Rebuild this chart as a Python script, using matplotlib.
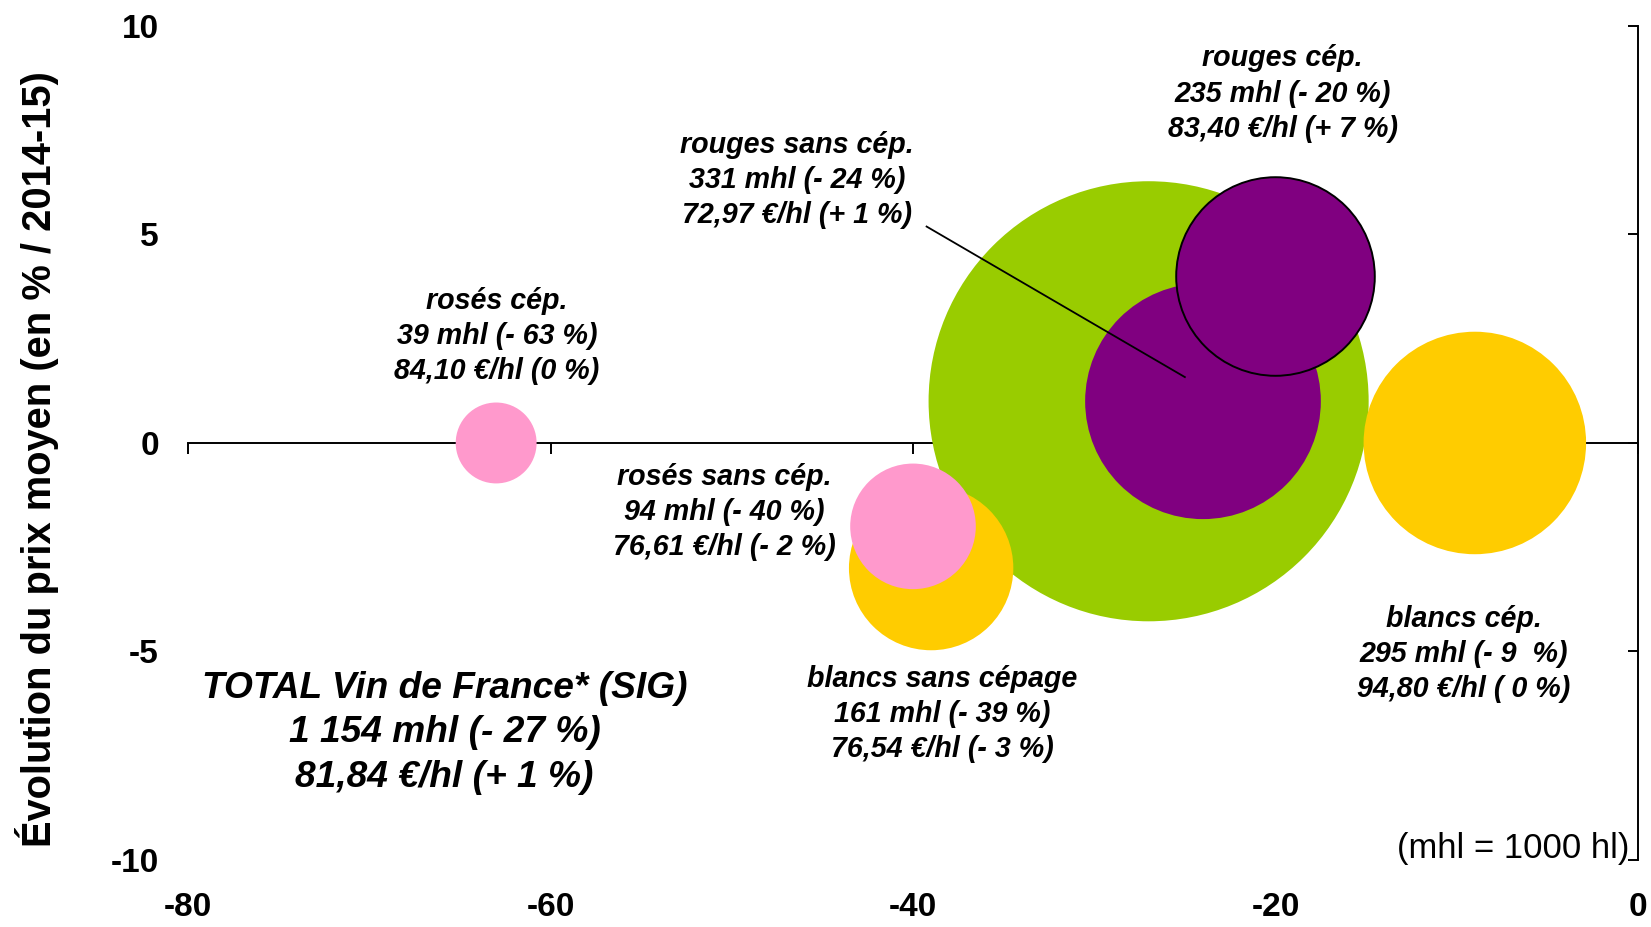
import matplotlib
matplotlib.use("Agg")
import matplotlib.pyplot as plt

plt.rcParams['font.family'] = ['Liberation Sans', 'DejaVu Sans']

# ---- data ----
categories = ["TOTAL Vin de France* (SIG)", "rouges sans cép.", "rouges cép.",
              "blancs sans cépage", "rosés sans cép.", "blancs cép.", "rosés cép."]
volume_change = [-27, -24, -20, -39, -40, -9, -63]      # % vs 2014-15 (x)
price_change = [1, 1, 4, -3, -2, 0, 0]                  # % vs 2014-15 (y, as plotted)
volumes_mhl = [1154, 331, 235, 161, 94, 295, 39]        # bubble size
colors = ["#99CC00", "#800080", "#800080", "#FFCC00", "#FF99CC", "#FFCC00", "#FF99CC"]
edges = ["none", "none", "black", "none", "none", "none", "none"]

labels = [
    "TOTAL Vin de France* (SIG)\n1 154 mhl (- 27 %)\n81,84 €/hl (+ 1 %)",
    "rouges sans cép.\n331 mhl (- 24 %)\n72,97 €/hl (+ 1 %)",
    "rouges cép.\n235 mhl (- 20 %)\n83,40 €/hl (+ 7 %)",
    "blancs sans cépage\n161 mhl (- 39 %)\n76,54 €/hl (- 3 %)",
    "rosés sans cép.\n94 mhl (- 40 %)\n76,61 €/hl (- 2 %)",
    "blancs cép.\n295 mhl (- 9  %)\n94,80 €/hl ( 0 %)",
    "rosés cép.\n39 mhl (- 63 %)\n84,10 €/hl (0 %)",
]
label_pos = [(-65.85, -6.95), (-46.4, 6.31), (-19.6, 8.38), (-38.4, -6.5),
             (-50.4, -1.65), (-9.6, -5.06), (-62.95, 2.57)]

x_ticks = [-80, -60, -40, -20, 0]
y_ticks = [-10, -5, 0, 5, 10]

# ---- figure ----
fig = plt.figure(figsize=(16.51, 9.27), dpi=100)
ax = fig.add_axes([0.1139, 0.0723, 0.8782, 0.8997])
ax.set_xlim(-80, 0)
ax.set_ylim(-10, 10)

size_k = 87.0
for i in range(len(categories)):
    ax.scatter(volume_change[i], price_change[i], s=volumes_mhl[i] * size_k,
               color=colors[i], edgecolors=edges[i],
               linewidths=1.4 if edges[i] != "none" else 0, zorder=3 + i * 0.1)

# leader line for "rouges sans cép."
ax.plot([-39.25, -25.0], [5.19, 1.58], color="black", lw=1.3, zorder=5)

for i, (lx, ly) in enumerate(label_pos):
    if i == 0:
        ax.text(lx, ly, labels[i], ha="center", va="center", fontsize=26.7,
                fontweight="bold", style="italic", linespacing=1.36, zorder=6)
    else:
        ax.text(lx, ly, labels[i], ha="center", va="center", fontsize=20.6,
                fontweight="bold", style="italic", linespacing=1.33, zorder=6)

ax.text(-0.45, -9.73, "(mhl = 1000 hl)", ha="right", va="center", fontsize=24.9)

# spines
for s in ["left", "top"]:
    ax.spines[s].set_visible(False)
ax.spines["bottom"].set_position(("data", 0))
ax.spines["bottom"].set_linewidth(1.4)
ax.spines["right"].set_linewidth(1.4)

ax.set_xticks(x_ticks)
ax.tick_params(axis="x", direction="out", length=8, width=1.4, labelbottom=False)
ax.set_yticks(y_ticks)
ax.set_yticklabels([str(v) for v in y_ticks])
ax.tick_params(axis="y", left=False, right=True, labelleft=True, labelright=False,
               direction="in", length=7.5, width=1.4, pad=21, labelsize=24)
for t in ax.get_yticklabels():
    t.set_fontweight("bold")

sec = ax.secondary_xaxis("bottom")
sec.set_xticks(x_ticks)
sec.set_xticklabels([str(v) for v in x_ticks])
sec.spines["bottom"].set_visible(False)
sec.tick_params(axis="x", length=0, pad=23, labelsize=24)
for t in sec.get_xticklabels():
    t.set_fontweight("bold")

fig.text(37 / 1651, 1 - 459 / 927, "Évolution du prix moyen (en % / 2014-15)",
         rotation=90, ha="center", va="center", fontsize=28.7, fontweight="bold")

fig.savefig("out.png", dpi=100)
